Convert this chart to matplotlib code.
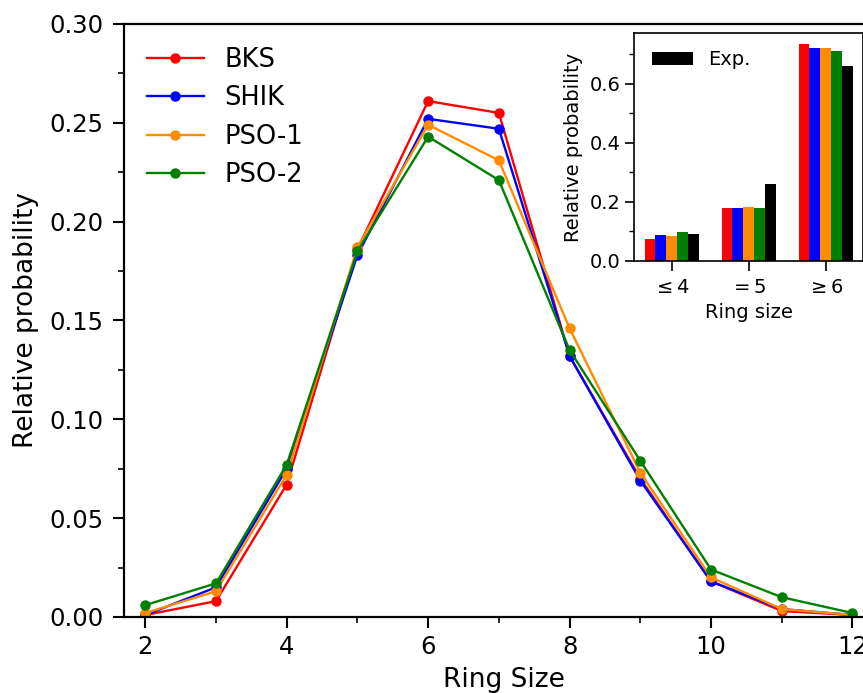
import matplotlib
matplotlib.use("Agg")
import matplotlib.pyplot as plt
import numpy as np

ring = [2, 3, 4, 5, 6, 7, 8, 9, 10, 11, 12]
bks = [0.001, 0.008, 0.067, 0.186, 0.261, 0.255, 0.132, 0.070, 0.018, 0.003, 0.001]
shik = [0.001, 0.015, 0.075, 0.183, 0.252, 0.247, 0.132, 0.069, 0.018, 0.004, 0.001]
pso1 = [0.002, 0.013, 0.072, 0.187, 0.249, 0.231, 0.146, 0.073, 0.020, 0.004, 0.001]
pso2 = [0.006, 0.017, 0.077, 0.185, 0.243, 0.221, 0.135, 0.079, 0.024, 0.010, 0.002]

groups = [r'$\leq 4$', r'$= 5$', r'$\geq 6$']
bar_bks = [0.073, 0.180, 0.736]
bar_shik = [0.088, 0.180, 0.721]
bar_pso1 = [0.086, 0.183, 0.721]
bar_pso2 = [0.098, 0.180, 0.711]
bar_exp = [0.090, 0.261, 0.662]

colors = ['red', 'blue', 'darkorange', 'green']
labels = ['BKS', 'SHIK', 'PSO-1', 'PSO-2']

fig = plt.figure(figsize=(8.63, 6.93), dpi=100)
ax = fig.add_axes([0.1437, 0.1097, 0.881, 0.8557])

for y, c, l in zip([bks, shik, pso1, pso2], colors, labels):
    ax.plot(ring, y, '-o', color=c, label=l, lw=1.7, ms=6.5)

ax.set_xlim(1.70, 12.45)
ax.set_ylim(0, 0.30)
ax.set_xticks([2, 4, 6, 8, 10, 12])
ax.set_xticks([3, 5, 7, 9, 11], minor=True)
ax.set_yticks(np.arange(0, 0.301, 0.05))
ax.set_yticks(np.arange(0.025, 0.3, 0.05), minor=True)
ax.tick_params(which='major', length=8, width=1.5, labelsize=17.5)
ax.tick_params(which='minor', length=4.5, width=1.2)
ax.tick_params(axis='x', which='major', pad=5)
ax.tick_params(axis='y', which='major', pad=6.5)
for s in ax.spines.values():
    s.set_linewidth(1.6)
ax.set_xlabel('Ring Size', fontsize=19, labelpad=6)
ax.set_ylabel('Relative probability', fontsize=19, labelpad=8)
ax.legend(loc='upper left', frameon=False, fontsize=18.5, handlelength=2.2,
          labelspacing=0.48)

ins = fig.add_axes([0.7350, 0.6234, 0.265, 0.329])
x = np.arange(len(groups))
w = 0.14
for i, (vals, c) in enumerate(zip([bar_bks, bar_shik, bar_pso1, bar_pso2, bar_exp],
                                  colors + ['black'])):
    ins.bar(x + (i - 2) * w, vals, w, color=c, label='Exp.' if c == 'black' else None)
ins.set_xticks(x)
ins.set_xticklabels(groups)
ins.set_yticks([0, 0.2, 0.4, 0.6])
ins.set_yticks([0.1, 0.3, 0.5, 0.7], minor=True)
ins.set_yticklabels(['0.0', '0.2', '0.4', '0.6'])
ins.tick_params(which='major', length=6.5, width=1.2, labelsize=14)
ins.tick_params(which='minor', length=3.5, width=1)
ins.tick_params(axis='x', which='major', length=7, pad=5.5)
for s in ins.spines.values():
    s.set_linewidth(1.2)
ins.set_xlabel('Ring size', fontsize=14, labelpad=4)
ins.set_ylabel('Relative probability', fontsize=14, labelpad=5)
ins.legend(loc='upper left', frameon=False, fontsize=14, handlelength=2.1)

fig.savefig('out.png', dpi=100)
